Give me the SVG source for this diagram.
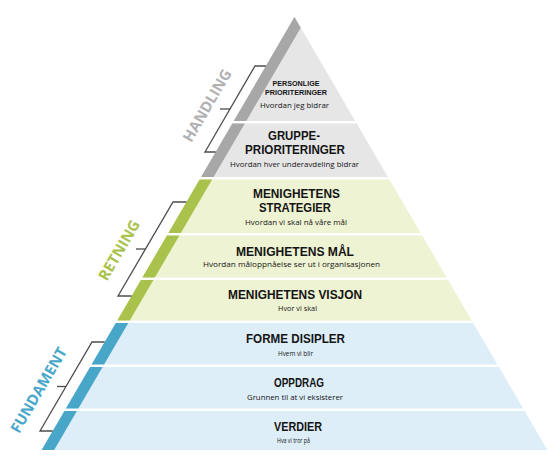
<svg xmlns="http://www.w3.org/2000/svg" width="560" height="462" viewBox="0 0 560 462">
<style>
.gfill{fill:#e6e6e7}.gstr{fill:#a7a7a7}
.efill{fill:#eef3d3}.estr{fill:#a9c24b}
.bfill{fill:#ddeef8}.bstr{fill:#48a7c9}
.h{font-family:"Liberation Sans",Arial,sans-serif;font-weight:bold;font-size:12.5px;fill:#141414;text-anchor:middle}
.h2{font-family:"Liberation Sans",Arial,sans-serif;font-weight:bold;font-size:12.3px;fill:#141414;text-anchor:middle}
.hs{font-family:"Liberation Sans",Arial,sans-serif;font-weight:bold;font-size:7.8px;fill:#141414;text-anchor:middle}
.s{font-family:"Open Sans","Liberation Sans",sans-serif;font-size:8px;fill:#141414;text-anchor:middle}
.lab{font-family:"Open Sans","Liberation Sans",sans-serif;font-weight:bold;font-size:15px;text-anchor:middle}
.br{fill:none;stroke:#4d4d4d;stroke-width:1.3}
</style>
<rect width="560" height="462" fill="#fff"/>
<g id="personlige">
<polygon class="gfill" points="294.5,17 355.24,121 233.76,121"/>
<polygon class="gstr" points="294.5,17 300.75,27.7 246.26,121 233.76,121"/>
<text class="hs" x="296" y="86" textLength="47" lengthAdjust="spacingAndGlyphs">PERSONLIGE</text>
<text class="hs" x="296" y="95" textLength="62" lengthAdjust="spacingAndGlyphs">PRIORITERINGER</text>
<text class="s" x="294.5" y="108" textLength="69" lengthAdjust="spacingAndGlyphs">Hvordan jeg bidrar</text>
</g>
<g id="gruppe">
<polygon class="gfill" points="232.3,123.5 356.7,123.5 387.94,177 201.06,177"/>
<polygon class="gstr" points="232.3,123.5 244.8,123.5 213.56,177 201.06,177"/>
<text class="h2" x="294" y="139.7" textLength="52" lengthAdjust="spacingAndGlyphs">GRUPPE-</text>
<text class="h2" x="295" y="154.2" textLength="100" lengthAdjust="spacingAndGlyphs">PRIORITERINGER</text>
<text class="s" x="294.5" y="167" textLength="129" lengthAdjust="spacingAndGlyphs">Hvordan hver underavdeling bidrar</text>
</g>
<g id="strategier">
<polygon class="efill" points="199.6,179.5 389.4,179.5 420.64,233 168.36,233"/>
<polygon class="estr" points="199.6,179.5 212.1,179.5 180.86,233 168.36,233"/>
<text class="h2" x="296.5" y="197.7" textLength="87" lengthAdjust="spacingAndGlyphs">MENIGHETENS</text>
<text class="h2" x="295" y="212.2" textLength="72" lengthAdjust="spacingAndGlyphs">STRATEGIER</text>
<text class="s" x="296" y="224.5" textLength="102" lengthAdjust="spacingAndGlyphs">Hvordan vi skal nå våre mål</text>
</g>
<g id="maal">
<polygon class="efill" points="166.9,235.5 422.1,235.5 446.63,277.5 142.37,277.5"/>
<polygon class="estr" points="166.9,235.5 179.4,235.5 154.87,277.5 142.37,277.5"/>
<text class="h" x="295" y="255.5" textLength="118" lengthAdjust="spacingAndGlyphs">MENIGHETENS MÅL</text>
<text class="s" x="291.5" y="267" textLength="177" lengthAdjust="spacingAndGlyphs">Hvordan måloppnåelse ser ut i organisasjonen</text>
</g>
<g id="visjon">
<polygon class="efill" points="140.91,280 448.09,280 471.74,320.5 117.26,320.5"/>
<polygon class="estr" points="140.91,280 153.41,280 129.76,320.5 117.26,320.5"/>
<text class="h" x="295" y="298.5" textLength="134" lengthAdjust="spacingAndGlyphs">MENIGHETENS VISJON</text>
<text class="s" x="297.5" y="311" textLength="39" lengthAdjust="spacingAndGlyphs">Hvor vi skal</text>
</g>
<g id="disipler">
<polygon class="bfill" points="115.8,323 473.2,323 497.44,364.5 91.56,364.5"/>
<polygon class="bstr" points="115.8,323 128.3,323 104.06,364.5 91.56,364.5"/>
<text class="h" x="295.5" y="343" textLength="99" lengthAdjust="spacingAndGlyphs">FORME DISIPLER</text>
<text class="s" x="295.5" y="356" textLength="35" lengthAdjust="spacingAndGlyphs">Hvem vi blir</text>
</g>
<g id="oppdrag">
<polygon class="bfill" points="90.1,367 498.9,367 523.14,408.5 65.86,408.5"/>
<polygon class="bstr" points="90.1,367 102.6,367 78.36,408.5 65.86,408.5"/>
<text class="h" x="299" y="387" textLength="50" lengthAdjust="spacingAndGlyphs">OPPDRAG</text>
<text class="s" x="295" y="400" textLength="96" lengthAdjust="spacingAndGlyphs">Grunnen til at vi eksisterer</text>
</g>
<g id="verdier">
<polygon class="bfill" points="64.4,411 524.6,411 547.37,450 41.63,450"/>
<polygon class="bstr" points="64.4,411 76.9,411 54.13,450 41.63,450"/>
<text class="h" x="298" y="430.5" textLength="48" lengthAdjust="spacingAndGlyphs">VERDIER</text>
<text class="s" x="293.5" y="443" textLength="33" lengthAdjust="spacingAndGlyphs">Hva vi tror på</text>
</g>
<g id="handling">
<text class="lab" fill="#b1b1b1" transform="translate(207,105.5) rotate(-59.7)" x="0" y="5.4" textLength="81" lengthAdjust="spacingAndGlyphs">HANDLING</text>
</g>
<g id="retning">
<text class="lab" fill="#a9c24b" transform="translate(119,250) rotate(-59.7)" x="0" y="5.4" textLength="67" lengthAdjust="spacingAndGlyphs">RETNING</text>
</g>
<g id="fundament">
<text class="lab" fill="#48a7c9" transform="translate(38.5,390) rotate(-59.7)" x="0" y="5.4" textLength="96" lengthAdjust="spacingAndGlyphs">FUNDAMENT</text>
</g>
<g id="connectors">
<polyline class="br" points="265.9,66 255,66 205,152 215.7,152"/>
<line class="br" x1="230.1" y1="109" x2="220" y2="109"/>
<polyline class="br" points="186.5,202 173,202 118,296 131.6,296"/>
<line class="br" x1="145.4" y1="249" x2="136" y2="249"/>
<polyline class="br" points="104.7,342 92,342 40,431 52.7,431"/>
<line class="br" x1="66" y1="386.5" x2="57" y2="386.5"/>
</g>
</svg>
